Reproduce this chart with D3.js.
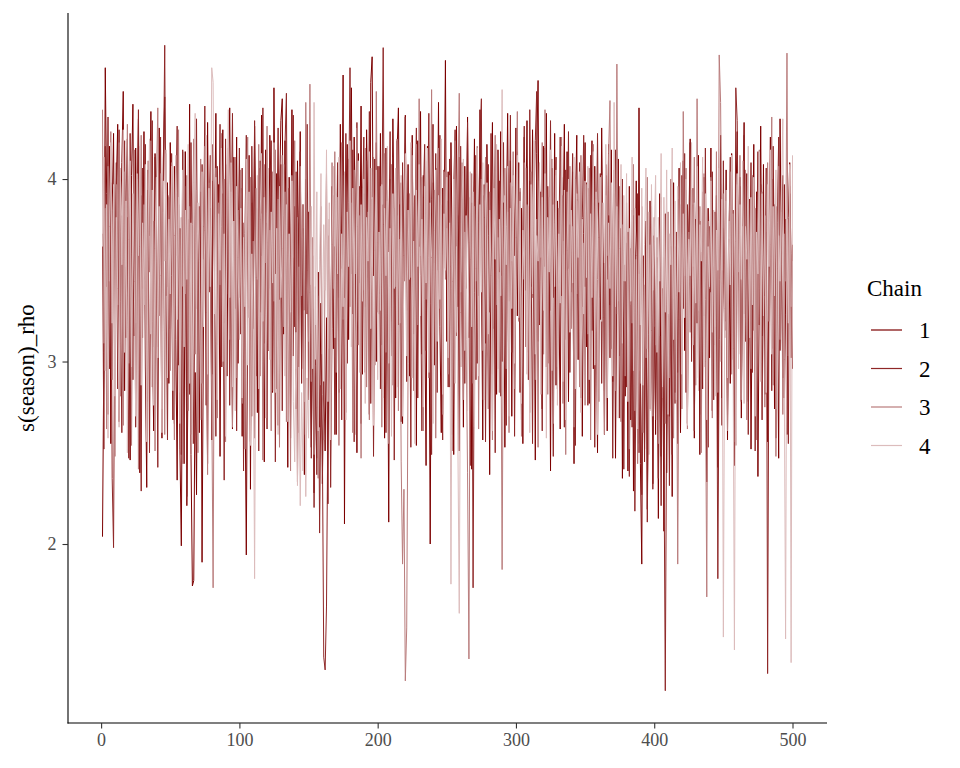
<!DOCTYPE html>
<html><head><meta charset="utf-8">
<script src="https://cdn.jsdelivr.net/npm/d3@7"></script>
<style>body{margin:0;background:#fff}svg{display:block}</style></head>
<body>
<script>
const chainNames = ["1","2","3","4"];
const chainColors = ["#7C0000","#8F2727","#B97C7C","#DCBCBC"];
const xTicks = [0,100,200,300,400,500];
const yTicks = [2,3,4];
const yLabel = "s(season)_rho";
const legendTitle = "Chain";

const chain1 = [
2.04,3.05,4.61,3.92,2.71,4.18,2.55,3.83,4.25,3.02,3.96,4.30,2.67,3.71,4.09,4.48,2.84,3.88,4.22,3.31,2.46,4.02,4.41,3.14,4.17,3.58,4.33,2.39,3.91,3.40,4.26,2.97,2.31,4.05,3.69,4.37,3.22,2.62,4.14,3.79,3.08,4.28,3.54,2.58,4.11,4.45,3.36,3.98,2.88,4.20,
3.47,2.68,4.07,3.12,2.35,3.86,2.52,1.99,3.41,2.44,4.15,2.21,3.03,4.41,2.49,1.77,1.80,2.94,2.27,3.72,2.61,3.93,1.90,3.19,4.04,2.76,4.31,3.38,3.84,2.57,4.19,3.62,4.36,3.09,3.97,2.48,3.74,4.27,3.21,4.08,2.92,3.89,4.39,3.44,2.63,4.12,3.29,4.23,2.99,3.77,
3.95,2.59,3.67,2.91,1.94,3.39,4.13,2.30,3.87,3.18,4.29,3.64,2.72,4.06,3.27,4.35,3.56,2.45,4.16,3.81,3.06,4.24,3.94,2.83,4.50,3.48,4.03,2.65,3.90,4.32,4.44,3.15,4.21,3.61,2.42,4.01,3.33,4.38,3.03,3.85,2.74,4.10,3.52,4.26,2.96,3.73,2.38,4.00,3.26,3.82,
3.16,2.53,3.58,2.28,3.01,2.47,3.49,2.64,3.32,2.33,2.89,2.51,3.24,2.22,3.69,2.78,3.96,3.07,3.63,2.60,4.02,3.35,4.30,3.51,4.57,2.11,3.88,4.19,3.12,4.05,4.50,3.26,4.23,3.66,2.50,4.14,3.43,4.40,2.93,3.92,3.30,4.27,3.76,2.71,4.53,4.67,3.47,4.11,3.00,4.07,
3.37,4.25,3.09,3.86,2.58,4.17,3.55,2.12,4.00,3.22,4.33,3.71,2.80,4.13,4.39,3.45,3.98,2.66,3.83,4.35,3.28,4.08,2.92,3.78,4.24,3.15,3.91,2.54,4.21,3.63,4.37,3.04,4.02,3.34,2.43,4.18,3.57,2.00,3.89,4.30,2.98,4.06,3.50,4.42,3.19,2.61,3.95,3.68,4.65,3.11,
4.04,2.86,4.20,3.53,2.49,3.85,4.29,3.30,4.12,2.97,3.76,2.64,4.07,3.40,4.34,3.13,3.90,2.41,3.62,4.22,2.90,4.03,3.36,4.38,3.55,2.57,3.97,3.10,4.19,3.69,2.38,3.81,4.31,3.18,4.05,2.82,4.16,3.49,4.26,3.00,3.87,2.53,3.74,4.36,3.33,4.10,2.70,3.96,3.58,4.28,
3.25,4.09,2.83,3.84,2.55,4.23,3.61,4.32,3.05,3.99,3.41,4.27,3.72,2.46,4.14,4.54,3.20,3.93,2.74,4.18,3.52,4.36,2.99,3.79,2.40,4.06,3.35,4.25,2.87,3.88,3.46,2.63,4.01,3.66,4.30,3.12,4.15,2.78,3.75,3.38,4.04,2.44,3.86,4.24,3.01,3.97,3.57,2.59,3.70,4.20,
3.08,3.95,2.77,3.68,4.21,2.96,4.07,3.39,2.50,3.87,3.23,4.28,3.60,2.84,4.02,2.62,3.80,3.31,4.16,2.89,3.92,2.47,3.51,4.11,3.03,3.73,2.36,3.44,2.81,3.65,2.40,3.96,2.68,3.83,2.29,3.27,3.99,2.55,4.39,2.44,1.89,3.58,2.52,3.77,2.19,3.15,3.88,3.42,2.33,3.69,
2.60,3.47,2.14,3.92,2.48,3.36,2.07,3.81,2.39,3.25,2.70,3.63,2.26,3.98,2.83,3.55,2.94,4.06,2.61,3.42,4.10,3.06,3.94,2.66,3.70,4.22,3.13,3.86,2.58,3.78,3.21,4.13,2.49,3.60,2.85,4.01,3.34,2.34,3.84,3.02,4.17,2.73,3.52,3.09,3.91,2.42,3.45,4.24,2.80,3.73,
3.17,4.05,2.57,3.67,2.88,4.14,3.30,2.43,3.82,4.26,3.04,3.96,2.69,3.74,4.31,3.24,4.03,2.78,3.89,2.52,3.49,4.19,2.95,3.93,2.37,3.40,4.29,3.14,4.08,2.82,3.71,2.56,3.62,4.23,3.07,4.00,2.74,3.85,3.37,2.47,4.33,3.53,2.91,3.97,3.26,2.60,3.79,4.09,3.02,3.64
];
const chain2 = [
3.70,2.52,4.18,3.41,4.34,2.96,3.98,2.36,1.98,3.57,4.09,2.85,4.27,3.33,2.61,3.86,4.21,3.13,3.79,2.47,4.25,3.59,2.90,4.03,2.64,3.82,4.38,3.24,2.29,4.06,3.45,4.19,2.78,3.94,2.50,3.75,4.32,3.08,4.12,3.55,2.42,3.81,4.23,2.87,4.01,4.733,3.39,2.57,3.90,3.18,
4.14,3.46,2.66,3.87,4.29,2.98,3.73,2.49,4.16,3.30,3.96,2.26,3.78,2.82,4.20,3.43,2.55,3.65,4.33,3.04,3.85,2.69,4.08,3.56,4.40,3.21,2.44,3.80,4.13,2.93,3.99,3.49,2.59,4.07,3.68,4.30,2.97,3.92,2.35,4.22,3.37,4.11,2.76,3.74,4.36,3.28,3.97,2.62,3.61,4.17,
3.15,4.06,2.40,3.70,4.24,3.29,3.93,2.56,4.18,3.47,4.32,2.92,3.84,2.51,4.10,3.58,4.39,3.10,3.76,2.63,4.02,3.40,4.21,2.84,3.88,2.45,3.64,4.28,3.34,4.08,2.73,3.80,4.19,4.47,3.01,3.95,2.58,3.69,4.35,3.19,4.04,2.34,3.57,4.15,2.88,3.86,2.60,3.72,4.30,2.79,
3.42,2.47,3.29,2.20,2.98,2.38,3.36,2.06,2.87,2.54,1.38,1.31,1.66,2.70,3.50,2.31,3.18,3.91,2.60,3.44,4.09,2.83,3.79,2.68,4.02,3.35,4.25,2.99,3.87,4.61,3.48,4.16,2.56,3.73,4.31,3.22,3.96,2.66,3.84,4.23,2.94,4.10,3.46,4.37,2.77,3.89,2.48,3.59,4.20,3.27,
4.07,2.85,3.81,4.72,3.37,2.61,3.94,3.60,4.26,3.03,4.12,2.46,3.71,4.21,3.20,3.86,2.67,4.09,3.44,4.34,2.89,3.92,3.55,2.53,4.17,3.30,3.78,4.28,2.80,4.01,3.47,2.62,3.90,4.19,3.06,3.75,4.36,3.32,2.49,3.98,3.54,4.14,2.83,3.83,4.24,3.25,2.57,4.05,3.51,3.88,
2.86,4.11,3.40,2.60,3.95,4.27,3.14,3.80,2.51,4.18,3.49,4.04,2.88,3.70,4.31,3.31,2.43,3.87,1.76,3.38,4.13,2.99,3.76,4.22,4.44,2.79,3.91,2.56,3.62,4.08,3.27,4.25,2.93,3.83,2.50,4.16,3.45,3.99,2.81,3.74,4.20,3.34,2.65,4.06,3.52,4.35,3.05,3.90,2.59,3.67,
4.15,3.23,3.93,2.68,3.72,4.29,3.39,4.07,2.90,4.38,3.55,2.55,3.85,4.21,4.48,3.11,4.02,3.44,2.62,3.78,4.17,2.97,3.96,3.53,4.32,3.28,2.48,3.81,4.12,2.85,3.63,4.23,3.36,3.91,2.64,4.05,3.50,4.26,2.94,3.70,4.14,3.19,2.54,3.89,3.58,4.09,2.80,3.79,4.24,3.41,
3.98,2.76,3.66,4.13,3.17,3.87,2.53,3.60,4.25,3.35,4.03,2.88,3.75,2.60,4.08,3.45,4.19,3.02,3.84,2.47,3.57,4.16,3.26,3.77,2.69,3.43,4.00,2.41,3.53,2.86,3.71,2.37,3.31,2.64,3.80,2.18,3.09,3.92,2.50,2.95,2.27,3.46,2.45,3.68,2.12,3.05,2.74,3.85,2.30,3.19,
2.68,3.57,2.36,3.14,2.21,3.40,2.58,1.196,2.81,3.26,2.32,3.63,2.49,3.34,2.77,3.71,2.55,3.89,2.90,4.02,3.29,4.14,2.83,3.86,3.44,4.20,3.00,3.95,2.62,3.66,4.07,2.91,3.77,2.71,3.93,3.25,4.17,3.07,2.53,3.74,3.38,4.04,2.79,3.82,3.50,1.81,3.12,3.97,2.65,4.10,
3.22,3.94,2.70,3.68,4.12,3.01,3.83,2.56,4.50,4.32,3.39,4.01,2.78,3.72,4.24,3.11,3.96,2.60,3.58,4.09,2.94,3.85,2.51,3.55,4.15,3.20,3.97,2.68,3.79,3.36,4.06,1.29,3.30,3.90,2.84,4.18,3.47,2.58,3.76,4.23,3.06,3.66,4.02,2.80,3.78,3.32,2.55,3.92,3.59,2.96
];
const chain3 = [
4.38,3.10,3.84,2.63,4.07,3.44,4.26,2.90,3.73,2.48,3.97,3.31,4.20,2.81,3.80,2.65,4.04,3.52,4.30,2.99,3.88,2.54,3.69,4.16,3.21,4.00,2.41,3.63,4.24,3.13,3.86,3.39,2.59,4.10,3.49,4.21,2.86,3.77,2.51,3.99,4.39,3.25,4.03,2.74,3.82,2.60,4.14,3.41,3.91,2.95,
4.09,3.20,2.57,3.92,3.58,4.27,2.83,3.79,2.44,4.15,3.37,4.02,2.73,3.85,2.60,3.75,4.22,3.04,3.94,2.50,3.56,4.11,2.88,3.74,4.18,3.27,2.38,3.98,3.46,2.80,1.76,3.60,4.06,2.69,3.87,3.42,4.25,2.97,4.00,2.56,3.71,4.17,3.12,3.93,2.64,3.53,4.12,2.91,3.83,3.35,
4.05,2.77,3.76,2.52,3.90,4.23,3.24,4.01,2.70,3.66,2.58,3.95,3.45,4.19,2.92,3.81,2.46,4.08,3.54,4.29,3.06,3.72,2.62,4.04,3.33,4.16,2.85,3.89,2.53,3.61,4.13,3.19,3.93,2.67,3.70,3.43,2.40,4.02,3.57,4.21,2.96,3.79,2.61,4.07,3.36,3.86,2.78,4.42,3.50,3.11,
4.52,2.89,3.68,2.49,3.41,2.75,2.36,3.32,3.85,2.82,2.57,3.59,4.03,3.07,3.78,2.66,4.09,3.40,4.15,2.94,3.90,2.54,3.72,4.20,3.23,3.97,2.72,3.62,4.11,3.30,3.87,2.61,4.05,3.48,4.28,3.09,3.80,2.47,3.95,3.39,4.17,2.86,3.82,2.68,4.06,3.52,4.12,2.98,4.48,3.65,
3.26,3.96,2.64,3.75,4.14,3.05,3.88,2.55,3.63,4.08,2.87,3.84,3.41,4.22,2.73,3.67,2.45,1.89,2.30,1.25,1.54,2.99,3.92,3.46,4.13,2.84,3.77,4.19,3.20,4.44,3.58,4.01,2.62,3.81,3.34,4.10,2.91,3.69,4.49,3.14,3.94,2.58,3.60,4.17,3.29,3.86,2.71,4.04,3.45,3.73,
2.93,4.02,3.52,2.51,3.80,4.21,3.16,3.91,4.47,3.38,4.09,2.79,3.71,3.12,2.39,1.37,3.56,4.03,2.88,3.85,3.44,4.18,2.63,3.66,4.00,3.06,3.79,4.12,3.27,2.74,3.93,3.50,2.57,3.87,4.24,3.31,3.68,2.83,3.47,1.86,3.40,4.06,2.96,3.82,2.61,3.98,3.55,4.15,2.85,3.73,
4.37,3.22,3.95,2.59,3.70,4.09,3.08,3.86,3.42,2.72,4.04,3.35,4.16,2.90,3.78,2.53,3.99,3.57,4.20,3.04,4.38,3.61,2.82,3.90,3.28,4.11,2.66,3.76,4.02,2.97,3.84,3.43,4.23,2.77,3.59,2.49,3.93,3.51,4.07,3.18,3.74,2.64,4.00,3.37,3.88,2.86,4.13,3.30,3.65,2.76,
3.97,3.15,4.06,2.57,3.72,4.19,2.99,3.89,3.45,2.78,3.81,4.02,3.24,2.60,3.91,3.58,4.14,4.43,3.07,3.66,4.05,2.84,4.63,3.33,3.96,2.67,3.75,3.53,2.92,3.87,3.39,2.52,3.62,3.21,4.08,2.73,3.56,2.44,3.48,2.88,3.85,2.61,3.42,3.02,4.01,2.49,3.64,3.17,2.70,3.79,
3.09,3.68,2.55,3.45,3.90,2.80,3.57,2.66,3.31,3.82,2.91,4.00,3.14,2.58,3.63,3.36,1.89,3.23,3.86,2.74,4.37,3.47,4.06,2.63,3.71,3.16,3.94,3.52,4.12,2.87,4.44,3.28,3.85,2.50,3.66,4.03,3.00,1.71,3.77,3.40,4.01,2.69,3.80,3.19,4.15,2.83,4.68,4.42,3.50,3.92,
3.13,3.88,2.62,3.67,4.04,2.93,3.81,3.38,2.54,3.97,3.49,4.13,2.79,3.74,3.26,4.05,2.68,3.90,3.43,2.96,4.02,3.17,3.84,2.57,3.59,4.16,2.99,3.93,3.36,2.75,3.78,4.09,3.22,3.64,4.34,2.87,3.86,2.48,3.51,4.07,3.12,3.82,2.71,3.70,3.44,4.69,3.03,3.96,3.30,3.55
];
const chain4 = [
3.63,4.12,2.95,3.86,2.58,3.74,4.20,3.21,3.97,2.81,3.79,3.40,2.64,4.06,3.53,4.27,3.05,3.88,2.50,3.67,4.10,2.97,3.92,3.44,2.70,4.03,3.58,4.18,2.87,3.76,3.31,4.08,2.56,3.71,4.22,3.15,3.94,2.76,3.62,4.01,3.02,3.85,3.47,2.61,3.99,3.55,4.16,2.91,3.78,3.37,
4.07,2.84,3.69,4.13,3.23,3.90,2.66,3.60,4.05,3.08,3.83,3.45,4.19,2.88,3.76,2.55,3.98,4.36,3.29,3.87,3.54,2.68,4.04,3.19,3.72,4.24,2.93,3.95,3.41,4.61,4.53,3.26,4.01,2.79,3.81,3.50,4.17,3.00,3.70,2.59,3.89,4.38,3.35,4.09,2.86,3.77,2.73,3.96,3.57,3.12,
3.84,2.80,3.68,3.30,4.11,2.98,3.93,2.54,3.59,3.14,1.81,3.46,4.02,2.85,3.78,4.14,3.22,3.90,2.69,3.65,4.06,3.01,3.82,3.43,4.20,2.83,3.73,2.60,3.96,3.35,3.62,4.08,2.92,3.86,2.67,3.70,3.27,3.99,2.78,2.45,3.16,2.32,2.97,2.21,2.83,2.40,3.28,2.26,2.91,2.58,
3.38,3.85,2.96,4.42,3.20,3.93,2.62,3.56,4.03,3.04,3.75,3.39,4.16,2.78,3.87,2.57,3.64,4.07,3.13,3.91,3.48,4.12,2.85,3.70,3.30,4.04,2.68,3.82,3.52,4.21,3.08,3.95,3.42,2.60,3.74,4.10,2.94,3.86,3.33,4.00,2.77,3.79,3.55,4.15,3.18,3.90,2.65,3.61,4.05,2.90,
3.71,3.28,3.97,2.80,3.84,3.47,4.18,2.99,3.73,2.59,3.92,3.40,4.06,2.86,3.80,3.21,4.02,2.70,3.58,4.14,3.03,3.83,3.45,4.20,2.91,3.66,2.55,3.94,3.52,4.08,3.25,3.78,2.75,3.96,3.43,4.17,2.94,3.87,3.57,2.66,3.72,4.05,3.11,3.91,3.34,4.22,2.82,3.81,3.50,4.01,
3.02,3.76,1.78,3.44,4.00,2.88,3.63,2.57,1.62,3.27,3.89,4.11,3.06,3.80,2.73,3.65,4.04,3.19,3.93,2.64,3.51,4.17,2.92,3.86,3.38,4.09,2.79,3.74,3.98,3.15,3.83,3.47,2.62,3.95,3.56,4.19,2.96,3.78,3.36,4.49,2.87,3.91,3.53,4.07,2.70,3.84,3.29,4.02,2.99,3.68,
4.13,3.24,3.88,2.77,3.72,3.45,4.06,2.93,3.85,2.61,3.97,3.37,4.21,3.04,3.69,3.55,4.09,2.82,3.90,3.28,4.03,2.58,3.79,3.49,4.16,2.95,3.86,3.41,4.05,2.76,3.70,3.32,4.18,2.89,3.94,2.68,3.61,4.00,3.16,3.83,3.43,4.12,2.85,3.92,3.57,4.04,2.72,3.78,3.26,3.99,
3.46,4.07,2.90,3.81,3.35,4.15,2.98,3.93,2.60,3.68,4.01,3.22,3.87,3.54,4.19,2.80,3.76,3.40,3.98,2.92,4.42,3.30,3.85,2.69,3.62,4.08,3.10,3.91,3.44,4.03,2.78,3.73,3.33,4.12,2.95,3.84,3.58,2.63,3.80,3.20,3.95,2.87,3.64,4.06,3.07,3.82,2.73,3.97,3.39,3.66,
4.02,3.05,3.79,3.44,4.14,2.86,3.90,3.27,4.05,2.71,3.70,3.53,4.17,3.12,3.88,2.79,3.96,3.38,4.09,2.93,3.81,3.24,4.00,2.65,3.67,3.47,4.20,3.09,3.87,3.32,4.07,2.84,3.75,3.55,4.12,2.97,3.92,2.68,3.63,3.41,3.99,3.16,3.83,2.81,3.72,3.50,4.06,3.00,3.89,1.49,
3.29,3.94,2.91,3.77,3.42,4.13,3.07,1.42,3.66,4.03,2.96,3.86,3.45,4.10,2.77,3.74,3.56,4.18,3.13,3.90,3.31,4.01,2.70,3.71,3.48,4.15,2.89,3.92,3.25,3.80,2.83,3.97,3.52,4.16,3.04,3.85,3.36,4.05,2.74,3.69,3.44,3.93,4.33,3.01,1.48,3.78,3.21,4.08,1.35,4.13
];
const chainValues = [chain1, chain2, chain3, chain4];

const W = 960, H = 768;
const panel = {left: 68, right: 827, top: 13, bottom: 723};
const font = "'Liberation Serif', Tinos, 'Times New Roman', Times, 'Noto Serif', 'DejaVu Serif', FreeSerif, serif";

const svg = d3.select("body").append("svg").attr("width", W).attr("height", H)
  .style("background", "#fff");

const nIter = d3.max(chainValues, c => c.length);
const xPad = (nIter - 1) * 0.05;
const x = d3.scaleLinear().domain([1 - xPad, nIter + xPad]).range([panel.left, panel.right]);
const allVals = chainValues.flat();
const [yMin, yMax] = d3.extent(allVals);
const yPad = (yMax - yMin) * 0.05;
const y = d3.scaleLinear().domain([yMin - yPad, yMax + yPad]).range([panel.bottom, panel.top]);

const line = d3.line().x((d, i) => x(i + 1)).y(d => y(d));

const g = svg.append("g");
chainValues.forEach((vals, k) => {
  g.append("path").datum(vals)
    .attr("fill", "none")
    .attr("stroke", chainColors[k])
    .attr("stroke-width", 1)
    .attr("d", line);
});

// axes
const xAxis = svg.append("g").attr("transform", `translate(0,${panel.bottom})`)
  .call(d3.axisBottom(x).tickValues(xTicks).tickSize(5.5).tickPadding(5).tickFormat(d3.format("d")));
const yAxis = svg.append("g").attr("transform", `translate(${panel.left},0)`)
  .call(d3.axisLeft(y).tickValues(yTicks).tickSize(5.5).tickPadding(6).tickFormat(d3.format("d")));
[xAxis, yAxis].forEach(a => {
  a.attr("font-family", font);
  a.select(".domain").attr("stroke", "#000").attr("stroke-width", 1.1);
  a.selectAll(".tick line").attr("stroke", "#333").attr("stroke-width", 1.1);
  a.selectAll(".tick text").attr("fill", "#4D4D4D").attr("font-family", font)
    .style("font-family", font).style("font-size", "18px");
});
xAxis.select(".domain").attr("d", `M${panel.left - 0.5},0H${panel.right}`);
yAxis.select(".domain").attr("d", `M0,${panel.top}V${panel.bottom + 0.5}`);

// y title
svg.append("text")
  .attr("transform", `translate(34,${(panel.top + panel.bottom) / 2}) rotate(-90)`)
  .attr("text-anchor", "middle")
  .attr("font-family", font).style("font-family", font).style("font-size", "23px").attr("fill", "#000")
  .text(yLabel);

// legend
const lg = svg.append("g");
lg.append("text").attr("x", 867).attr("y", 296)
  .attr("font-family", font).style("font-family", font).style("font-size", "23px").attr("fill", "#000")
  .text(legendTitle);
chainNames.forEach((nm, k) => {
  const cy = 330 + k * 38.5;
  lg.append("line").attr("x1", 871).attr("x2", 902).attr("y1", cy).attr("y2", cy)
    .attr("stroke", chainColors[k]).attr("stroke-width", 1.2);
  lg.append("text").attr("x", 919).attr("y", cy + 8)
    .attr("font-family", font).style("font-family", font).style("font-size", "23px").attr("fill", "#000")
    .text(nm);
});
</script>
</body></html>
